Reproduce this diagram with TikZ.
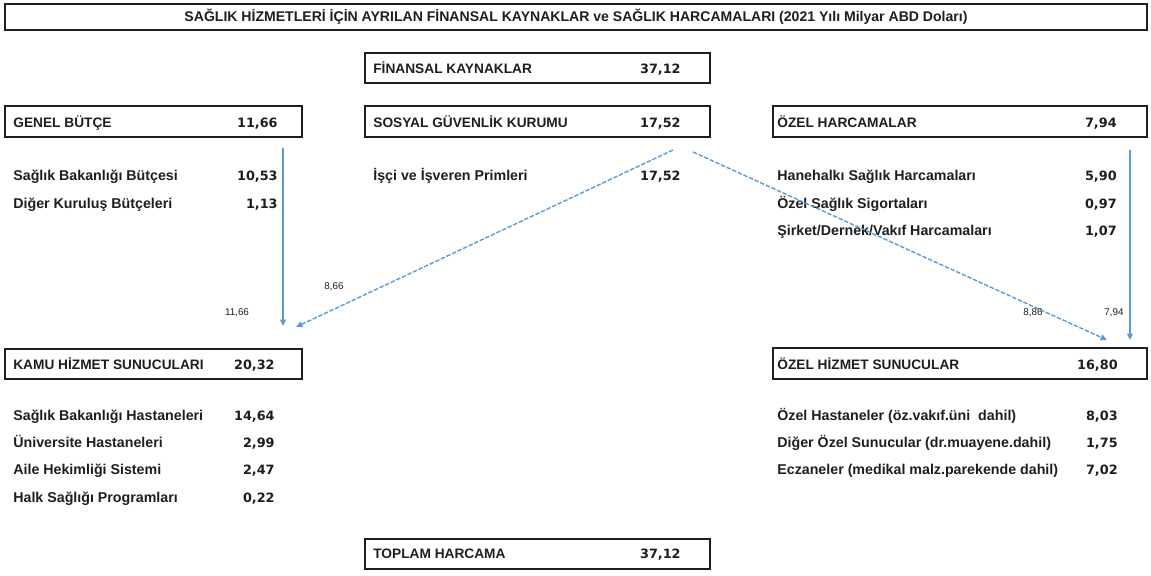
\documentclass[tikz,border=0pt]{standalone}
\usepackage{fontspec}
\setmainfont{Liberation Sans}
\newfontfamily\numfont{DejaVu Sans}
\usetikzlibrary{arrows.meta,positioning,fit}
\definecolor{flowblue}{RGB}{91,155,213}
\definecolor{inkgray}{RGB}{30,30,30}
\tikzset{
  hdrbox/.style={draw=inkgray,line width=1.1pt,inner sep=0pt},
  lbl/.style={anchor=west,inner sep=0pt,text=inkgray,text height=5.6pt,text depth=1.6pt,yshift=-1.3pt,
    font=\bfseries\fontsize{8.1}{9}\selectfont},
  head/.style={lbl,font=\bfseries\fontsize{7.8}{9}\selectfont},
  val/.style={anchor=east,inner sep=0pt,text=inkgray,text height=5.6pt,text depth=1.6pt,yshift=-1.3pt,
    font=\numfont\bfseries\fontsize{7.3}{9}\selectfont},
  amt/.style={inner sep=0pt,text=inkgray,font=\fontsize{5.6}{6}\selectfont},
  flow/.style={flowblue,line width=0.8pt,-{Triangle[length=1.3mm,width=1.2mm]}},
  share/.style={flow,dash pattern=on 2.5pt off 1pt}
}
\begin{document}
\begin{tikzpicture}[x=0.02cm,y=-0.02cm]
  \useasboundingbox (0,0) rectangle (1151,575);
  % title
  \node[hdrbox,fit={(5,4) (1147,30)}] (title) {};
  \node[inner sep=0pt,text=inkgray,font=\bfseries\fontsize{8}{9}\selectfont] (titleT) at (title.center)
    {SAĞLIK HİZMETLERİ İÇİN AYRILAN FİNANSAL KAYNAKLAR ve SAĞLIK HARCAMALARI (2021 Yılı Milyar ABD Doları)};
  % boxes
  \node[hdrbox,fit={(365,53) (710,83)}] (fk) {};
  \node[hdrbox,fit={(5,106) (302,137)}] (gb) {};
  \node[hdrbox,fit={(365,106) (710,137)}] (sgk) {};
  \node[hdrbox,fit={(773,106) (1147,137)}] (oh) {};
  \node[hdrbox,fit={(5,349) (302,379)}] (kamu) {};
  \node[hdrbox,fit={(773,348) (1147,379)}] (ozh) {};
  \node[hdrbox,fit={(365,539) (710,569)}] (toplam) {};
  % box texts
  \node[head] (fkT) at (373,68) {FİNANSAL KAYNAKLAR};
  \node[val] (fkV) at (681,68) {37,12};
  \node[head] (gbT) at (13,122) {GENEL BÜTÇE};
  \node[val] (gbV) at (278,122) {11,66};
  \node[head] (sgkT) at (373,122) {SOSYAL GÜVENLİK KURUMU};
  \node[val] (sgkV) at (681,122) {17,52};
  \node[head] (ohT) at (777,122) {ÖZEL HARCAMALAR};
  \node[val] (ohV) at (1117,122) {7,94};
  \node[head] (kamuT) at (13,364) {KAMU HİZMET SUNUCULARI};
  \node[val] (kamuV) at (275,364) {20,32};
  \node[head] (ozhT) at (777,364) {ÖZEL HİZMET SUNUCULAR};
  \node[val] (ozhV) at (1118,364) {16,80};
  \node[head] (toplamT) at (373,553) {TOPLAM HARCAMA};
  \node[val] (toplamV) at (681,553) {37,12};
  % sources
  \node[lbl] (gb1) at (13,175) {Sağlık Bakanlığı Bütçesi};
  \node[val] (gb1V) at (278,175) {10,53};
  \node[lbl] (gb2) at (13,203) {Diğer Kuruluş Bütçeleri};
  \node[val] (gb2V) at (278,203) {1,13};
  \node[lbl] (sgk1) at (373,175) {İşçi ve İşveren Primleri};
  \node[val] (sgk1V) at (681,175) {17,52};
  \node[lbl] (oh1) at (777,175) {Hanehalkı Sağlık Harcamaları};
  \node[val] (oh1V) at (1117,175) {5,90};
  \node[lbl] (oh2) at (777,203) {Özel Sağlık Sigortaları};
  \node[val] (oh2V) at (1117,203) {0,97};
  \node[lbl] (oh3) at (777,230) {Şirket/Dernek/Vakıf Harcamaları};
  \node[val] (oh3V) at (1117,230) {1,07};
  % providers
  \node[lbl] (kamu1) at (13,415) {Sağlık Bakanlığı Hastaneleri};
  \node[val] (kamu1V) at (275,415) {14,64};
  \node[lbl] (kamu2) at (13,442) {Üniversite Hastaneleri};
  \node[val] (kamu2V) at (275,442) {2,99};
  \node[lbl] (kamu3) at (13,469) {Aile Hekimliği Sistemi};
  \node[val] (kamu3V) at (275,469) {2,47};
  \node[lbl] (kamu4) at (13,497) {Halk Sağlığı Programları};
  \node[val] (kamu4V) at (275,497) {0,22};
  \node[lbl] (ozh1) at (777,415) {Özel Hastaneler (öz.vakıf.üni\ \ dahil)};
  \node[val] (ozh1V) at (1118,415) {8,03};
  \node[lbl] (ozh2) at (777,442) {Diğer Özel Sunucular (dr.muayene.dahil)};
  \node[val] (ozh2V) at (1118,442) {1,75};
  \node[lbl] (ozh3) at (777,469) {Eczaneler (medikal malz.parekende dahil)};
  \node[val] (ozh3V) at (1118,469) {7,02};
  % flows
  \coordinate (gbOut) at (283,148);
  \coordinate (kamuInA) at (283,326);
  \coordinate (sgkOutL) at (673,150);
  \coordinate (kamuInB) at (296,327);
  \coordinate (sgkOutR) at (693,152);
  \coordinate (ozhInA) at (1107,340);
  \coordinate (ohOut) at (1130,150);
  \coordinate (ozhInB) at (1130,340);
  \draw[flow] (gbOut) -- (kamuInA);
  \draw[share] (sgkOutL) -- (kamuInB);
  \draw[share] (sgkOutR) -- (ozhInA);
  \draw[flow] (ohOut) -- (ozhInB);
  \node[amt] (fGb) at (237,313) {11,66};
  \node[amt] (fSgkL) at (334,287) {8,66};
  \node[amt] (fSgkR) at (1033,313) {8,86};
  \node[amt] (fOh) at (1114,313) {7,94};
\end{tikzpicture}
\end{document}
